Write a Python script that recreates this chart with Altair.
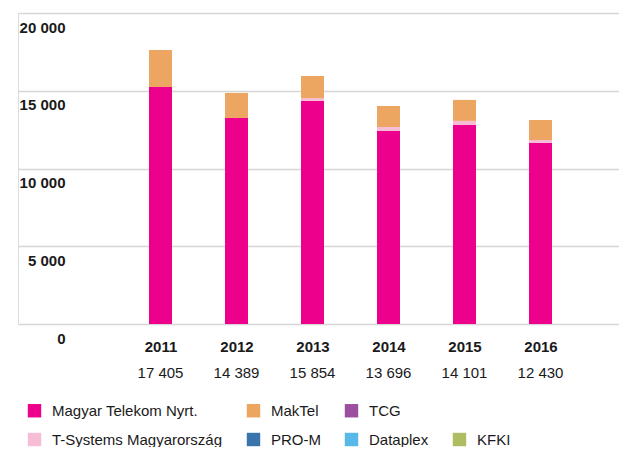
import altair as alt
import pandas as pd

years = [2011, 2012, 2013, 2014, 2015, 2016]
totals = ["17 405", "14 389", "15 854", "13 696", "14 101", "12 430"]
magyar_telekom = [15240, 13250, 14340, 12410, 12800, 11640]
t_systems = [0, 0, 190, 260, 260, 190]
maktel = [2380, 1610, 1420, 1350, 1350, 1290]

legend_items = ["Magyar Telekom Nyrt.", "MakTel", "TCG", " ",
                "T-Systems Magyarország", "PRO-M", "Dataplex", "KFKI"]
legend_colors = ["#EC008C", "#EDA562", "#9B4F9E", "transparent",
                 "#F7BCD6", "#3A74AC", "#58B8E8", "#AEBD62"]

FONT = "Liberation Sans"

rows = []
for i, y in enumerate(years):
    rows.append({"year": y, "company": "Magyar Telekom Nyrt.", "value": magyar_telekom[i], "ord": 0})
    rows.append({"year": y, "company": "T-Systems Magyarország", "value": t_systems[i], "ord": 1})
    rows.append({"year": y, "company": "MakTel", "value": maktel[i], "ord": 2})
df = pd.DataFrame(rows)
tot = pd.DataFrame({"year": years, "total": totals})

W, H = 601, 311

xscale = alt.Scale(domain=[2009.125, 2017.033], nice=False, zero=False, padding=0)

bars = alt.Chart(df).mark_bar(size=23).encode(
    x=alt.X("year:Q", scale=xscale,
            axis=alt.Axis(title=None, values=years, format="d", ticks=False, tickSize=0,
                          domain=False, labelAngle=0, grid=False,
                          labelFont=FONT, labelFontSize=15, labelFontWeight="bold",
                          labelColor="#1a1a1a", labelBaseline="middle", labelPadding=22)),
    y=alt.Y("value:Q", stack="zero",
            scale=alt.Scale(domain=[0, 20000], nice=False),
            axis=alt.Axis(title=None, values=[0, 5000, 10000, 15000, 20000],
                          ticks=False, tickSize=0, domain=False,
                          labelExpr="replace(format(datum.value, ','), ',', ' ')",
                          labelAlign="right", labelBaseline="middle",
                          labelPadding=-47, labelOffset=14,
                          labelFont=FONT, labelFontSize=15, labelFontWeight="bold",
                          labelColor="#1a1a1a",
                          grid=True, gridColor="#d6d6d6", gridWidth=1.5)),
    color=alt.Color("company:N",
                    scale=alt.Scale(domain=legend_items, range=legend_colors),
                    legend=alt.Legend(title=None, orient="none", legendX=9, legendY=390,
                                      columns=4, direction="horizontal",
                                      symbolType="square", symbolSize=180,
                                      symbolStrokeWidth=0, labelFont=FONT,
                                      labelFontSize=15, labelColor="#1a1a1a",
                                      labelOffset=10, columnPadding=23, rowPadding=13,
                                      padding=0, labelLimit=400)),
    order=alt.Order("ord:Q"),
)

totals_text = alt.Chart(tot).mark_text(font=FONT, fontSize=15, color="#1a1a1a",
                                       baseline="middle").encode(
    x=alt.X("year:Q", scale=xscale),
    y=alt.value(360),
    text="total:N",
)

chart = alt.layer(bars, totals_text).properties(
    width=W, height=H,
    autosize=alt.AutoSizeParams(type="none"),
    padding={"left": 10, "top": 5, "right": 0, "bottom": 123},
).configure_view(stroke=None).configure(background="white")

chart.save("out.html", embed_options={"renderer": "svg", "actions": False})
